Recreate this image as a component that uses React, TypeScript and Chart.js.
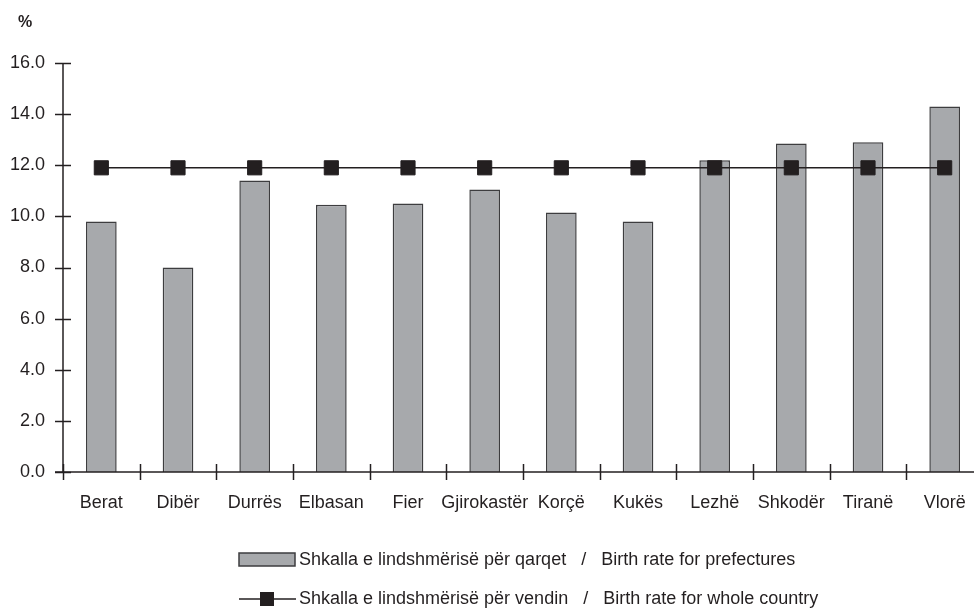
import React, { useEffect, useRef } from "react";
import { Chart, registerables } from "chart.js";

Chart.register(...registerables);

const categories = ["Berat", "Dibër", "Durrës", "Elbasan", "Fier", "Gjirokastër", "Korçë", "Kukës", "Lezhë", "Shkodër", "Tiranë", "Vlorë"];
const prefectureRates = [9.8, 8.0, 11.4, 10.45, 10.5, 11.05, 10.15, 9.8, 12.2, 12.85, 12.9, 14.3];
const countryRate = [11.9, 11.9, 11.9, 11.9, 11.9, 11.9, 11.9, 11.9, 11.9, 11.9, 11.9, 11.9];
const yTicks = { min: 0, max: 16, step: 2 };
const barLabel = "Shkalla e lindshmërisë për qarqet   /   Birth rate for prefectures";
const lineLabel = "Shkalla e lindshmërisë për vendin   /   Birth rate for whole country";
const unitLabel = "%";

const FONT = "'Liberation Sans', Arial, sans-serif";
const INK = "#231f20";
const BAR_FILL = "#a7a9ac";
const BAR_EDGE = "#3d3d3f";

const axesPlugin = {
  id: "customAxes",
  afterDraw(chart: any) {
    const { ctx, chartArea: a, scales } = chart;
    const x = scales.x;
    const y = scales.y;
    ctx.save();
    ctx.strokeStyle = INK;
    ctx.lineWidth = 1.5;
    // y axis
    const yTop = y.getPixelForValue(yTicks.max);
    ctx.beginPath();
    ctx.moveTo(a.left, yTop);
    ctx.lineTo(a.left, a.bottom);
    ctx.stroke();
    y.ticks.forEach((t: any) => {
      const py = Math.round(y.getPixelForValue(t.value)) + 0.5;
      ctx.beginPath();
      ctx.moveTo(a.left - 8, py);
      ctx.lineTo(a.left + 8, py);
      ctx.stroke();
    });
    // x axis
    ctx.beginPath();
    ctx.moveTo(a.left - 8, a.bottom);
    ctx.lineTo(a.right, a.bottom);
    ctx.stroke();
    const n = chart.data.labels.length;
    const w = (x.right - x.left) / n;
    for (let i = 0; i <= n; i++) {
      const px = Math.round(x.left + i * w) + 0.5;
      ctx.beginPath();
      ctx.moveTo(px, a.bottom - 8);
      ctx.lineTo(px, a.bottom + 8);
      ctx.stroke();
    }
    // unit label
    ctx.fillStyle = INK;
    ctx.font = `bold 16px ${FONT}`;
    ctx.textAlign = "center";
    ctx.textBaseline = "middle";
    ctx.fillText(unitLabel, 25, 23);

    // legend
    const ds = chart.data.datasets;
    ctx.font = `18px ${FONT}`;
    ctx.textAlign = "left";
    // row 1 : bars
    ctx.fillStyle = BAR_FILL;
    ctx.fillRect(239, 553, 56, 13);
    ctx.strokeStyle = BAR_EDGE;
    ctx.lineWidth = 1.5;
    ctx.strokeRect(239, 553, 56, 13);
    ctx.fillStyle = INK;
    ctx.fillText(ds[0].label, 299, 560);
    // row 2 : line
    ctx.strokeStyle = INK;
    ctx.lineWidth = 1.5;
    ctx.beginPath();
    ctx.moveTo(239, 599);
    ctx.lineTo(296, 599);
    ctx.stroke();
    ctx.fillRect(260, 592, 14, 14);
    ctx.fillText(ds[1].label, 299, 599);
    ctx.restore();
  },
};

export default function App() {
  const ref = useRef<HTMLCanvasElement | null>(null);
  useEffect(() => {
    if (!ref.current) return;
    const chart = new Chart(ref.current, {
      type: "bar",
      data: {
        labels: categories,
        datasets: [
          {
            type: "bar",
            label: barLabel,
            data: prefectureRates,
            backgroundColor: BAR_FILL,
            borderColor: BAR_EDGE,
            borderWidth: 1.5,
            barPercentage: 0.5,
            categoryPercentage: 0.8,
            order: 1,
          },
          {
            type: "line",
            label: lineLabel,
            data: countryRate,
            borderColor: INK,
            borderWidth: 1.5,
            backgroundColor: INK,
            pointStyle: "rect",
            pointRadius: 10,
            pointBorderWidth: 1,
            pointBackgroundColor: INK,
            pointBorderColor: INK,
            fill: false,
            order: 0,
          } as any,
        ],
      },
      options: {
        responsive: false,
        animation: false,
        layout: { padding: { top: 63, right: 17, left: 0, bottom: 0 } },
        plugins: { legend: { display: false }, tooltip: { enabled: false } },
        scales: {
          x: {
            offset: true,
            grid: { display: false, drawTicks: false },
            border: { display: false },
            ticks: { color: INK, font: { family: FONT, size: 18 }, padding: 20, maxRotation: 0, autoSkip: false },
            afterFit: (s: any) => { s.height = 140; },
          },
          y: {
            min: yTicks.min,
            max: yTicks.max,
            grid: { display: false, drawTicks: false },
            border: { display: false },
            ticks: {
              stepSize: yTicks.step,
              color: INK,
              font: { family: FONT, size: 18 },
              padding: 18,
              callback: (v: any) => Number(v).toFixed(1),
            },
            afterFit: (s: any) => { s.width = 63; },
          },
        },
      },
      plugins: [axesPlugin],
    });
    return () => chart.destroy();
  }, []);
  return (
    <div style={{ position: "fixed", left: 0, top: 0, width: 974, height: 612, overflow: "hidden", background: "#fff" }}>
      <canvas ref={ref} width={1000} height={612} style={{ display: "block", width: 1000, height: 612 }} />
    </div>
  );
}
